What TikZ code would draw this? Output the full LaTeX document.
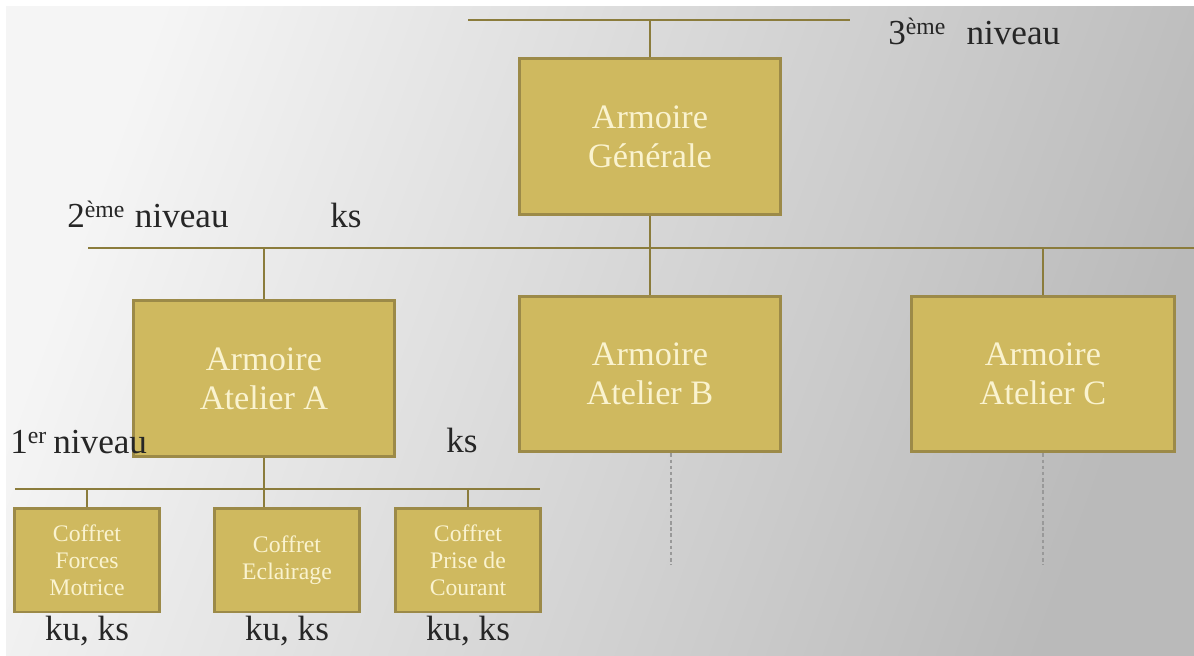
\documentclass[tikz,border=0pt]{standalone}
\usepackage{fontspec}
\setmainfont{Liberation Serif}
\usepackage{xcolor}
\usetikzlibrary{positioning,calc}

\definecolor{boxfill}{HTML}{CFB95F}
\definecolor{boxline}{HTML}{9C8A48}
\definecolor{busline}{HTML}{8B7C3C}
\definecolor{boxtext}{HTML}{FAF3CF}
\definecolor{labtext}{HTML}{262626}

% small raised ordinal
\newcommand{\ordsup}[1]{\raisebox{0.6ex}{\fontsize{13.5}{13.5}\selectfont #1}}

\begin{document}
\begin{tikzpicture}[
  x={(0.02cm,0cm)},
  y={(0cm,-0.02cm)},
  bus/.style={draw=busline, line width=1.1pt},
  feed/.style={draw=black!40, line width=0.8pt, dash pattern=on 2pt off 1.5pt},
  armoire/.style={draw=boxline, fill=boxfill, line width=1.7pt, inner sep=0pt,
    minimum width=5.24cm, minimum height=3.12cm, align=center, text=boxtext,
    font=\fontsize{19.5}{22}\selectfont},
  coffret/.style={armoire, minimum width=2.92cm, minimum height=2.08cm,
    font=\fontsize{13.5}{15.3}\selectfont},
  lab/.style={text=labtext, inner sep=0pt, font=\fontsize{20}{24}\selectfont}
]
% background
\useasboundingbox (0,0) rectangle (1194,656);
\fill[white] (0,0) rectangle (1194,656);
\shade[left color=black!4, right color=black!27, shading angle=70] (6,6) rectangle (1194,656);

% boxes
\node[armoire] (gen) at (650,136.5) {Armoire\\Générale};
\node[armoire] (atA) at (264,378.5) {Armoire\\Atelier A};
\node[armoire] (atB) at (650,374) {Armoire\\Atelier B};
\node[armoire, minimum width=5.28cm] (atC) at (1043,374) {Armoire\\Atelier C};
\node[coffret] (cfFM) at (87,560) {Coffret\\Forces\\Motrice};
\node[coffret] (cfEcl) at (287,560) {Coffret\\Eclairage};
\node[coffret] (cfPC) at (468,560) {Coffret\\Prise de\\Courant};

% bus bars
\coordinate (n3w) at (468,20);
\coordinate (n3e) at (850,20);
\coordinate (n2w) at (88,248);
\coordinate (n2e) at (1194,248);
\coordinate (n1w) at (15,489);
\coordinate (n1e) at (540,489);
\draw[bus] (n3w) -- (n3e);
\draw[bus] (gen.north) -- (gen.north |- n3w);
\draw[bus] (n2w) -- (n2e);
\draw[bus] (gen.south) -- (gen.south |- n2w);
\foreach \a in {atA,atB,atC}
  \draw[bus] (\a.north) -- (\a.north |- n2w);
\draw[bus] (n1w) -- (n1e);
\draw[bus] (atA.south) -- (atA.south |- cfEcl.north);
\foreach \c in {cfFM,cfPC}
  \draw[bus] (\c.north) -- (\c.north |- n1w);

% feeders not shown
\coordinate (endB) at (671,565);
\draw[feed] (atB.south -| endB) -- (endB);
\draw[feed] (atC.south) -- (atC.south |- endB);

% level labels
\node[lab, anchor=base west] (lvl3) at (888,44) {3\ordsup{ème}\hspace{0.6em}niveau};
\node[lab, anchor=base west] (lvl2) at (67,227) {2\ordsup{ème}\hspace{0.3em}niveau};
\node[lab, anchor=base west] (ks2) at (330,227) {ks};
\node[lab, anchor=base west] (lvl1) at (10,453) {1\ordsup{er}\hspace{0.2em}niveau};
\node[lab, anchor=base west] (ks1) at (446,452) {ks};
\foreach \c in {cfFM,cfEcl,cfPC}
  \node[lab, below=0.05cm of \c] (ku-\c) {ku, ks};
\end{tikzpicture}
\end{document}
